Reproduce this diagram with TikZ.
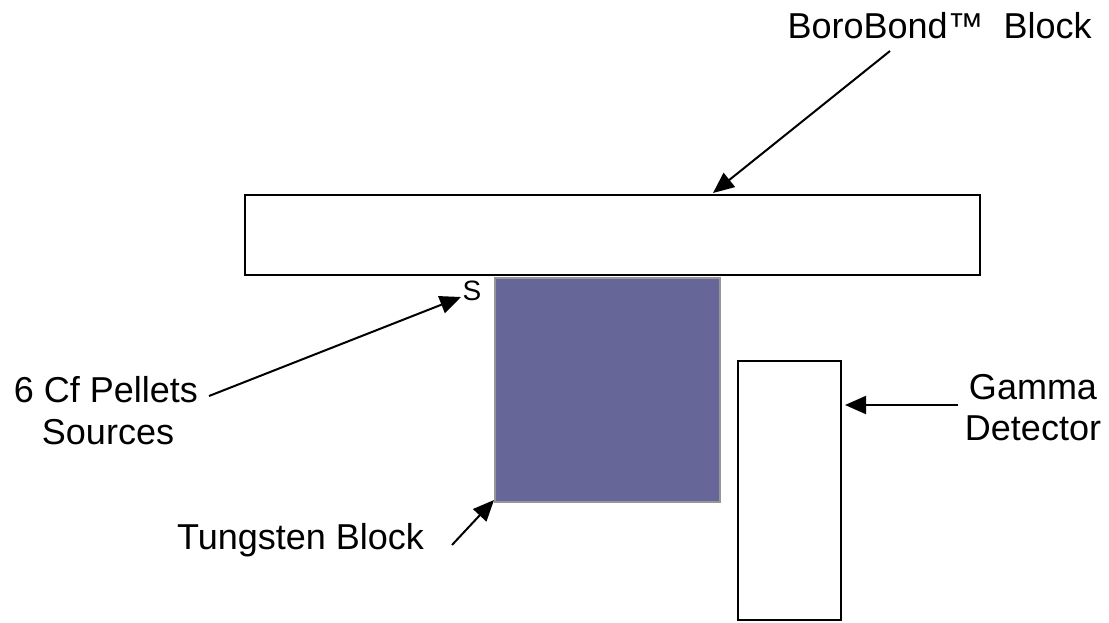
\documentclass[tikz,border=0pt]{standalone}
\usepackage{fontspec}
\setmainfont{Liberation Sans}
\usetikzlibrary{arrows.meta}
\definecolor{tungsten}{HTML}{666699}
\definecolor{tborder}{HTML}{969696}
\begin{document}
\begin{tikzpicture}[x=1pt,y=-1pt,
  box/.style={draw=black, line width=2pt, inner sep=0pt, anchor=north west},
  wblock/.style={fill=tungsten, draw=tborder, line width=1.5pt, inner sep=0pt, anchor=north west},
  lbl/.style={font=\fontsize{36}{41.5}\selectfont, inner sep=0pt, align=center},
  arr/.style={line width=2pt, -{Triangle[length=21pt,width=18pt]}}
]
\useasboundingbox (0,0) rectangle (1109,622);
% shapes
\node[box, minimum width=735pt, minimum height=80pt] (boro) at (244,194) {};
\node[wblock, minimum width=225pt, minimum height=224pt] (tung) at (494,277) {};
\node[box, minimum width=103pt, minimum height=259pt] (det) at (737,360) {};
% labels
\node[lbl, anchor=base east] (borolbl) at (1092,38) {BoroBond™\ \ Block};
\node[lbl, anchor=base] (gamma) at (1033,399) {Gamma};
\node[lbl, anchor=base] (detlbl) at (1033,440) {Detector};
\node[lbl, anchor=base] (cf) at (106,402) {6 Cf Pellets};
\node[lbl, anchor=base] (src) at (108,444) {Sources};
\node[lbl, anchor=base west] (tunglbl) at (177,549) {Tungsten Block};
\node[font=\fontsize{28}{32}\selectfont, inner sep=0pt, anchor=base] (s) at (472,300) {S};
% connector ends
\coordinate (boroTail) at (890,51);
\coordinate (boroTip) at (713,193);
\coordinate (gamTail) at (958,405);
\coordinate (gamTip) at (845,405);
\coordinate (cfTail) at (209,396);
\coordinate (cfTip) at (461,297);
\coordinate (tuTail) at (452,545);
\coordinate (tuTip) at (494,500);
% connectors
\draw[arr] (boroTail) -- (boroTip);
\draw[arr] (gamTail) -- (gamTip);
\draw[arr] (cfTail) -- (cfTip);
\draw[arr] (tuTail) -- (tuTip);
\end{tikzpicture}
\end{document}
